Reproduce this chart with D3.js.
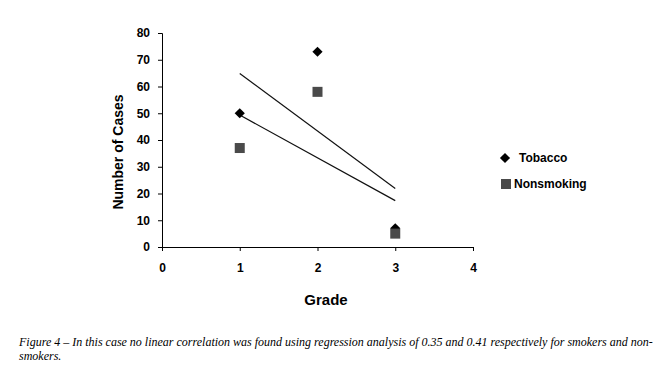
<!DOCTYPE html>
<html>
<head>
<meta charset="utf-8">
<script src="https://cdn.jsdelivr.net/npm/d3@7"></script>
<style>
  body { margin: 0; background: #fff; }
  svg text { font-family: Arial, "Liberation Sans", sans-serif; }
</style>
</head>
<body>
<div id="chart"></div>
<script>
// data
var grades = [1, 2, 3];
var tobacco = [50, 73, 7];
var nonsmoking = [37, 58, 5];
var xTicks = [0, 1, 2, 3, 4];
var yTicks = [0, 10, 20, 30, 40, 50, 60, 70, 80];
var captionLines = [
  "Figure 4 \u2013 In this case no linear correlation was found using regression analysis of 0.35 and 0.41 respectively for smokers and non-",
  "smokers."
];

var svgWidth = 669, svgHeight = 371;
var chartMargin = { top: 33, left: 162 };
var chartWidth = 311, chartHeight = 214;

var svg = d3.select('#chart').append('svg')
  .attr('width', svgWidth)
  .attr('height', svgHeight);

var chartGroup = svg.append('g')
  .attr('transform', `translate(${chartMargin.left}, ${chartMargin.top})`);

var xScale = d3.scaleLinear().domain([0, 4]).range([0, chartWidth]);
var yScale = d3.scaleLinear().domain([0, 80]).range([chartHeight, 0]);

// axes
var bottomAxis = d3.axisBottom(xScale).tickValues(xTicks).tickFormat(d3.format('d')).tickSize(4).tickPadding(12);
var leftAxis = d3.axisLeft(yScale).tickValues(yTicks).tickFormat(d3.format('d')).tickSize(4).tickPadding(8);

var gx = chartGroup.append('g')
  .attr('transform', `translate(0, ${chartHeight})`)
  .call(bottomAxis);
var gy = chartGroup.append('g').call(leftAxis);

[gx, gy].forEach(function(g) {
  g.selectAll('path.domain').attr('stroke', '#000').attr('stroke-width', 1);
  g.selectAll('.tick line').attr('stroke', '#000');
  g.selectAll('.tick text')
    .attr('fill', '#000')
    .style('font-size', '12px')
    .style('font-weight', 'bold')
    .style('font-family', 'Arial, "Liberation Sans", sans-serif');
});

// least squares trend line per series
function fit(xs, ys) {
  var mx = d3.mean(xs), my = d3.mean(ys);
  var num = d3.sum(xs, (x, i) => (x - mx) * (ys[i] - my));
  var den = d3.sum(xs, x => (x - mx) * (x - mx));
  var b = num / den;
  return x => my + b * (x - mx);
}

var line = d3.line().x(d => xScale(d[0])).y(d => yScale(d[1]));
[tobacco, nonsmoking].forEach(function(vals) {
  var f = fit(grades, vals);
  var ext = d3.extent(grades);
  chartGroup.append('path')
    .attr('d', line([[ext[0], f(ext[0])], [ext[1], f(ext[1])]]))
    .attr('fill', 'none')
    .attr('stroke', '#111')
    .attr('stroke-width', 1.2);
});

// points
var diamond = d3.symbol().type(d3.symbolSquare).size(52);
chartGroup.selectAll('.tob')
  .data(grades)
  .enter()
  .append('path')
  .attr('class', 'tob')
  .attr('d', diamond)
  .attr('transform', (d, i) => `translate(${xScale(d)}, ${yScale(tobacco[i])}) rotate(45)`)
  .attr('fill', '#000');

chartGroup.selectAll('.non')
  .data(grades)
  .enter()
  .append('rect')
  .attr('class', 'non')
  .attr('x', d => xScale(d) - 5)
  .attr('y', (d, i) => yScale(nonsmoking[i]) - 5)
  .attr('width', 10)
  .attr('height', 10)
  .attr('fill', '#4a4a4a');

// axis titles
svg.append('text')
  .attr('x', 326)
  .attr('y', 305)
  .attr('text-anchor', 'middle')
  .style('font-size', '15px')
  .style('font-weight', 'bold')
  .text('Grade');

svg.append('text')
  .attr('transform', 'translate(123, 152) rotate(-90)')
  .attr('text-anchor', 'middle')
  .style('font-size', '14px')
  .style('font-weight', 'bold')
  .text('Number of Cases');

// legend
var legend = svg.append('g');
legend.append('path')
  .attr('d', diamond)
  .attr('transform', 'translate(505, 158) rotate(45)')
  .attr('fill', '#000');
legend.append('text')
  .attr('x', 519).attr('y', 162)
  .style('font-size', '12px').style('font-weight', 'bold')
  .text('Tobacco');
legend.append('rect')
  .attr('x', 501).attr('y', 179).attr('width', 10).attr('height', 10)
  .attr('fill', '#4a4a4a');
legend.append('text')
  .attr('x', 514).attr('y', 188)
  .style('font-size', '12px').style('font-weight', 'bold')
  .text('Nonsmoking');

// caption
svg.selectAll('.caption')
  .data(captionLines)
  .enter()
  .append('text')
  .attr('class', 'caption')
  .attr('x', 19)
  .attr('y', (d, i) => 346 + i * 14)
  .style('font-family', '"Liberation Serif", "Times New Roman", serif')
  .style('font-style', 'italic')
  .style('font-size', '12px')
  .text(d => d);
</script>
</body>
</html>
